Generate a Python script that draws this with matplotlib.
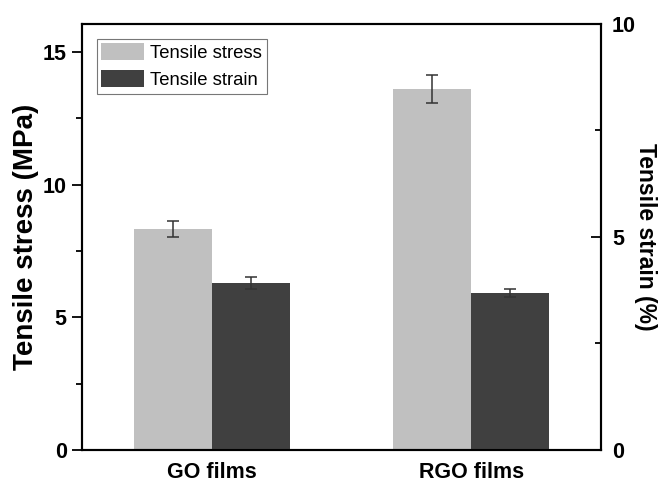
import numpy as np
import matplotlib
matplotlib.use('Agg')
import matplotlib.pyplot as plt
from matplotlib.ticker import MultipleLocator

plt.rcParams['font.family'] = ['Liberation Sans', 'DejaVu Sans']

films = ['GO films', 'RGO films']
stress = [8.33, 13.6]        # MPa
stress_err = [0.3, 0.52]
strain = [3.92, 3.68]        # %
strain_err = [0.13, 0.1]

light = '#c0c0c0'
dark = '#404040'
w = 0.3
x = np.arange(1, len(films) + 1)

fig = plt.figure(figsize=(6.6, 4.83), dpi=100)
ax1 = fig.add_axes([82/660, 33/483, 519/660, 426/483])
ax2 = ax1.twinx()

b1 = ax1.bar(x - w/2, stress, w, color=light, label='Tensile stress',
             yerr=stress_err, error_kw=dict(ecolor='#333333', elinewidth=1.1,
                                            capsize=4, capthick=1.1))
b2 = ax2.bar(x + w/2, strain, w, color=dark, label='Tensile strain',
             yerr=strain_err, error_kw=dict(ecolor='#333333', elinewidth=1.1,
                                            capsize=4, capthick=1.1))

ax1.set_xlim(0.5, 2.5)
ax1.set_ylim(0, 16.05)
ax2.set_ylim(0, 10)
ax1.set_xticks(x)
ax1.set_xticklabels(films, fontsize=15.5, fontweight='bold')
ax1.tick_params(axis='x', length=0, pad=9)

ax1.yaxis.set_major_locator(MultipleLocator(5))
ax1.yaxis.set_minor_locator(MultipleLocator(2.5))
ax1.tick_params(axis='y', which='major', direction='out', length=7, width=1.3,
                labelsize=15.5, pad=4)
ax1.tick_params(axis='y', which='minor', direction='out', length=4, width=1.3)
for t in ax1.get_yticklabels():
    t.set_fontweight('bold')

ax2.yaxis.set_major_locator(MultipleLocator(5))
ax2.yaxis.set_minor_locator(MultipleLocator(2.5))
ax2.tick_params(axis='y', which='major', direction='in', length=7, width=1.3,
                labelsize=15.5, pad=8)
ax2.tick_params(axis='y', which='minor', direction='in', length=4, width=1.3)
for t in ax2.get_yticklabels():
    t.set_fontweight('bold')

for a in (ax1, ax2):
    for s in a.spines.values():
        s.set_linewidth(1.5)

ax1.set_ylabel('Tensile stress (MPa)', fontsize=20, fontweight='bold',
               va='center', ha='center')
ax1.yaxis.set_label_coords(-0.108, 0.5)
ax2.set_ylabel('Tensile strain (%)', fontsize=16.5, fontweight='bold',
               rotation=270, va='center', ha='center')
ax2.yaxis.set_label_coords(1.085, 0.5)

leg = ax1.legend([b1, b2], ['Tensile stress', 'Tensile strain'],
                 loc='upper left', fontsize=13.3, frameon=True, fancybox=False,
                 edgecolor='#555555', handlelength=2.3, handleheight=1.0,
                 handletextpad=0.35, labelspacing=0.45, borderpad=0.25,
                 borderaxespad=0.8)
leg.get_frame().set_linewidth(0.8)

fig.savefig('out.png', dpi=100)
